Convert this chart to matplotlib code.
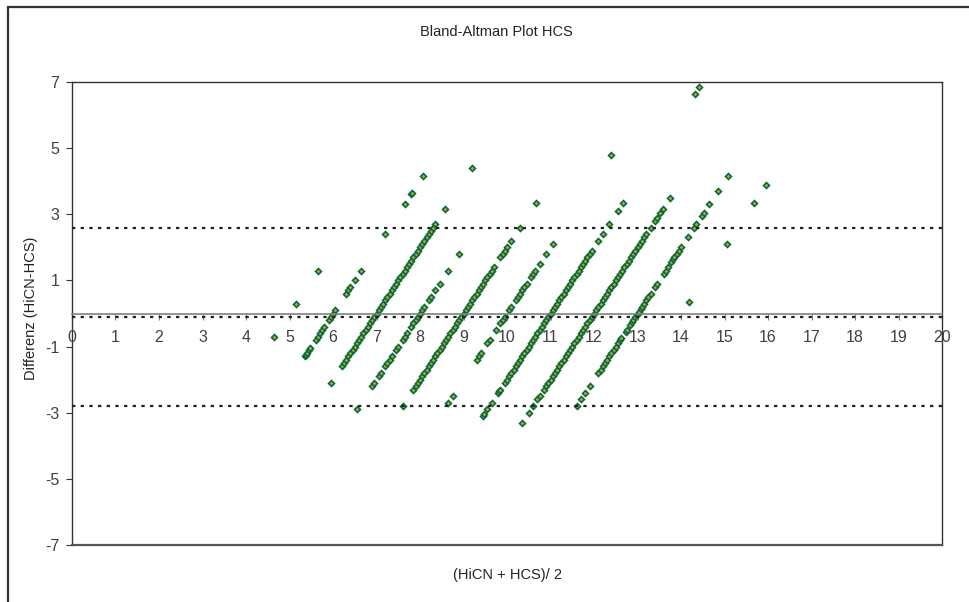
import numpy as np
import matplotlib
matplotlib.use("Agg")
import matplotlib.pyplot as plt
from matplotlib.patches import Rectangle

plt.rcParams['font.family'] = ['Liberation Sans', 'DejaVu Sans']
plt.rcParams['axes.unicode_minus'] = False

# HiCN readings grouped by the HCS value they were paired with
hcs_values = [5, 6, 7, 8, 9, 10, 11, 12, 13, 14]

hicn_hcs5 = [4.3, 5.3, 6.3]
hicn_hcs6 = [4.7, 4.75, 4.8, 4.9, 4.95, 5.2, 5.3, 5.4, 5.5, 5.6, 5.8, 5.9, 6.0, 6.1,
             6.6, 6.7, 6.8, 7.0, 7.3, 8.4, 9.3, 9.6, 9.65, 10.15]
hicn_hcs7 = [4.9, 5.4, 5.5, 5.6, 5.7, 5.8, 5.9, 6.0, 6.1, 6.2, 6.3, 6.4, 6.5, 6.6, 6.7,
             6.8, 6.9, 7.0, 7.1, 7.2, 7.3, 7.4, 7.5, 7.6, 7.7, 7.8, 7.9, 8.0, 8.1, 8.2,
             8.3, 8.4, 8.5, 8.6, 8.7, 8.8, 8.9, 9.0, 9.1, 9.2, 9.3, 9.4, 9.5, 9.6, 9.7,
             10.15, 11.4]
hicn_hcs8 = [5.1, 5.8, 5.9, 6.1, 6.2, 6.4, 6.5, 6.6, 6.7, 6.9, 7.0, 7.2, 7.3, 7.4, 7.6,
             7.7, 7.8, 7.9, 8.0, 8.1, 8.2, 8.4, 8.5, 8.7, 8.9, 9.3, 9.8]
hicn_hcs9 = [6.2, 6.7, 6.8, 6.9, 7.0, 7.1, 7.2, 7.3, 7.4, 7.5, 7.6, 7.7, 7.8, 7.9, 8.0,
             8.1, 8.2, 8.3, 8.4, 8.5, 8.6, 8.7, 8.8, 8.9, 9.0, 9.1, 9.2, 9.3, 9.4, 9.5,
             9.6, 9.7, 9.8, 9.9, 10.0, 10.1, 10.2, 10.3, 10.4, 10.7, 10.8, 10.9, 11.0,
             11.2, 11.6, 12.35]
hicn_hcs10 = [7.3, 7.5, 8.6, 8.7, 8.8, 9.1, 9.2, 9.5, 9.7, 9.8, 9.9, 10.1, 10.2, 10.4,
              10.5, 10.6, 10.7, 10.8, 10.9, 11.1, 11.2, 11.3, 11.5, 11.8, 12.1, 14.8]
hicn_hcs11 = [7.9, 7.95, 8.1, 8.3, 8.6, 8.65, 8.7, 8.9, 9.0, 9.1, 9.2, 9.3, 9.4, 9.5,
              9.6, 9.7, 9.8, 9.9, 10.0, 10.1, 10.2, 10.3, 10.4, 10.5, 10.6, 10.7, 10.8,
              10.9, 11.0, 11.1, 11.2, 11.3, 11.4, 11.5, 11.6, 11.7, 11.8, 11.9, 12.0,
              12.1, 12.2, 12.3, 12.4, 12.5, 12.6, 12.7, 12.8, 12.9, 13.2, 13.4, 13.7,
              14.1, 14.35, 17.65, 17.85]
hicn_hcs12 = [8.7, 9.0, 9.2, 9.4, 9.5, 9.7, 9.8, 9.9, 10.0, 10.1, 10.2, 10.3, 10.4,
              10.5, 10.6, 10.7, 10.8, 10.9, 11.0, 11.1, 11.2, 11.3, 11.4, 11.5, 11.6,
              11.7, 11.8, 11.9, 12.0, 12.1, 12.2, 12.3, 12.4, 12.5, 12.6, 12.7, 12.8,
              12.9, 13.0, 13.1, 13.2, 13.3, 13.4, 13.5, 13.6, 13.7, 13.8, 13.9, 14.0,
              14.1, 14.2, 14.3, 14.4, 14.6, 14.8, 14.9, 15.05, 15.15, 15.5]
hicn_hcs13 = [10.2, 10.4, 10.6, 10.8, 11.2, 11.3, 11.4, 11.5, 11.6, 11.7, 11.8, 11.9,
              12.0, 12.1, 12.2, 12.25, 12.45, 12.5, 12.65, 12.75, 12.8, 12.9, 13.0,
              13.05, 13.15, 13.2, 13.3, 13.4, 13.5, 13.6, 13.8, 13.9, 14.2, 14.3, 14.4,
              14.55, 14.65, 14.7, 14.8, 14.9, 15.0, 15.3, 15.6, 15.7, 15.95, 16.05,
              16.3, 16.7, 17.15]
hicn_hcs14 = [14.35, 16.1, 17.35, 17.9]

hicn_groups = [hicn_hcs5, hicn_hcs6, hicn_hcs7, hicn_hcs8, hicn_hcs9, hicn_hcs10,
               hicn_hcs11, hicn_hcs12, hicn_hcs13, hicn_hcs14]

# mean difference and limits of agreement as shown in the chart
mean_diff = -0.10
upper_loa = 2.59
lower_loa = -2.79

x_ticks = list(range(0, 21))
y_ticks = [-7, -5, -3, -1, 1, 3, 5, 7]

# build mean / difference pairs
means = []
diffs = []
for hcs, hicn in zip(hcs_values, hicn_groups):
    hicn = np.array(hicn)
    means.extend((hicn + hcs) / 2)
    diffs.extend(hicn - hcs)

fig = plt.figure(figsize=(9.7, 6.02), dpi=100)
ax = fig.add_axes([72 / 970, 57 / 602, 870 / 970, 463 / 602])

ax.plot(means, diffs, linestyle="none", marker="D", markersize=3.0,
        markerfacecolor="#B4A83A", markeredgecolor="#0A6B3A", markeredgewidth=1.2,
        zorder=2)

for level in [upper_loa, mean_diff, lower_loa]:
    ax.axhline(level, color="#222222", lw=1.6, linestyle=(0, (1.5, 2.4)), zorder=3)

ax.set_xlim(0, 20)
ax.set_ylim(-7, 7)

# x axis crosses at zero, plot area border drawn separately
ax.spines["bottom"].set_position(("data", 0))
ax.spines["bottom"].set_color("#808080")
ax.spines["bottom"].set_linewidth(1.2)
for side in ["left", "top", "right"]:
    ax.spines[side].set_color("#333333")
    ax.spines[side].set_linewidth(1.0)
ax.axhline(-7, color="#555555", lw=1.6, clip_on=False, zorder=4)

ax.set_xticks(x_ticks)
ax.set_yticks(y_ticks)
ax.tick_params(axis="x", direction="out", length=4, color="#808080", pad=8,
               labelsize=11.5, labelcolor="#404040")
ax.tick_params(axis="y", direction="out", length=4, color="#333333", pad=5,
               labelsize=11.5, labelcolor="#404040")

fig.text(496 / 970, 1 - 32 / 602, "Bland-Altman Plot HCS", ha="center", va="center",
         fontsize=10.5, color="#222222")
fig.text(508 / 970, 1 - 575 / 602, "(HiCN + HCS)/ 2", ha="center", va="center",
         fontsize=10.5, color="#222222")
fig.text(31 / 970, 1 - 308 / 602, "Differenz (HiCN-HCS)", ha="center", va="center",
         rotation=90, fontsize=10.5, color="#222222")

# outer chart border
fig.patches.append(Rectangle((8 / 970, -0.1), 1.2, 1 - 7 / 602 + 0.1,
                             transform=fig.transFigure, fill=False,
                             edgecolor="#333333", lw=1.6))

fig.savefig("out.png", dpi=100)
